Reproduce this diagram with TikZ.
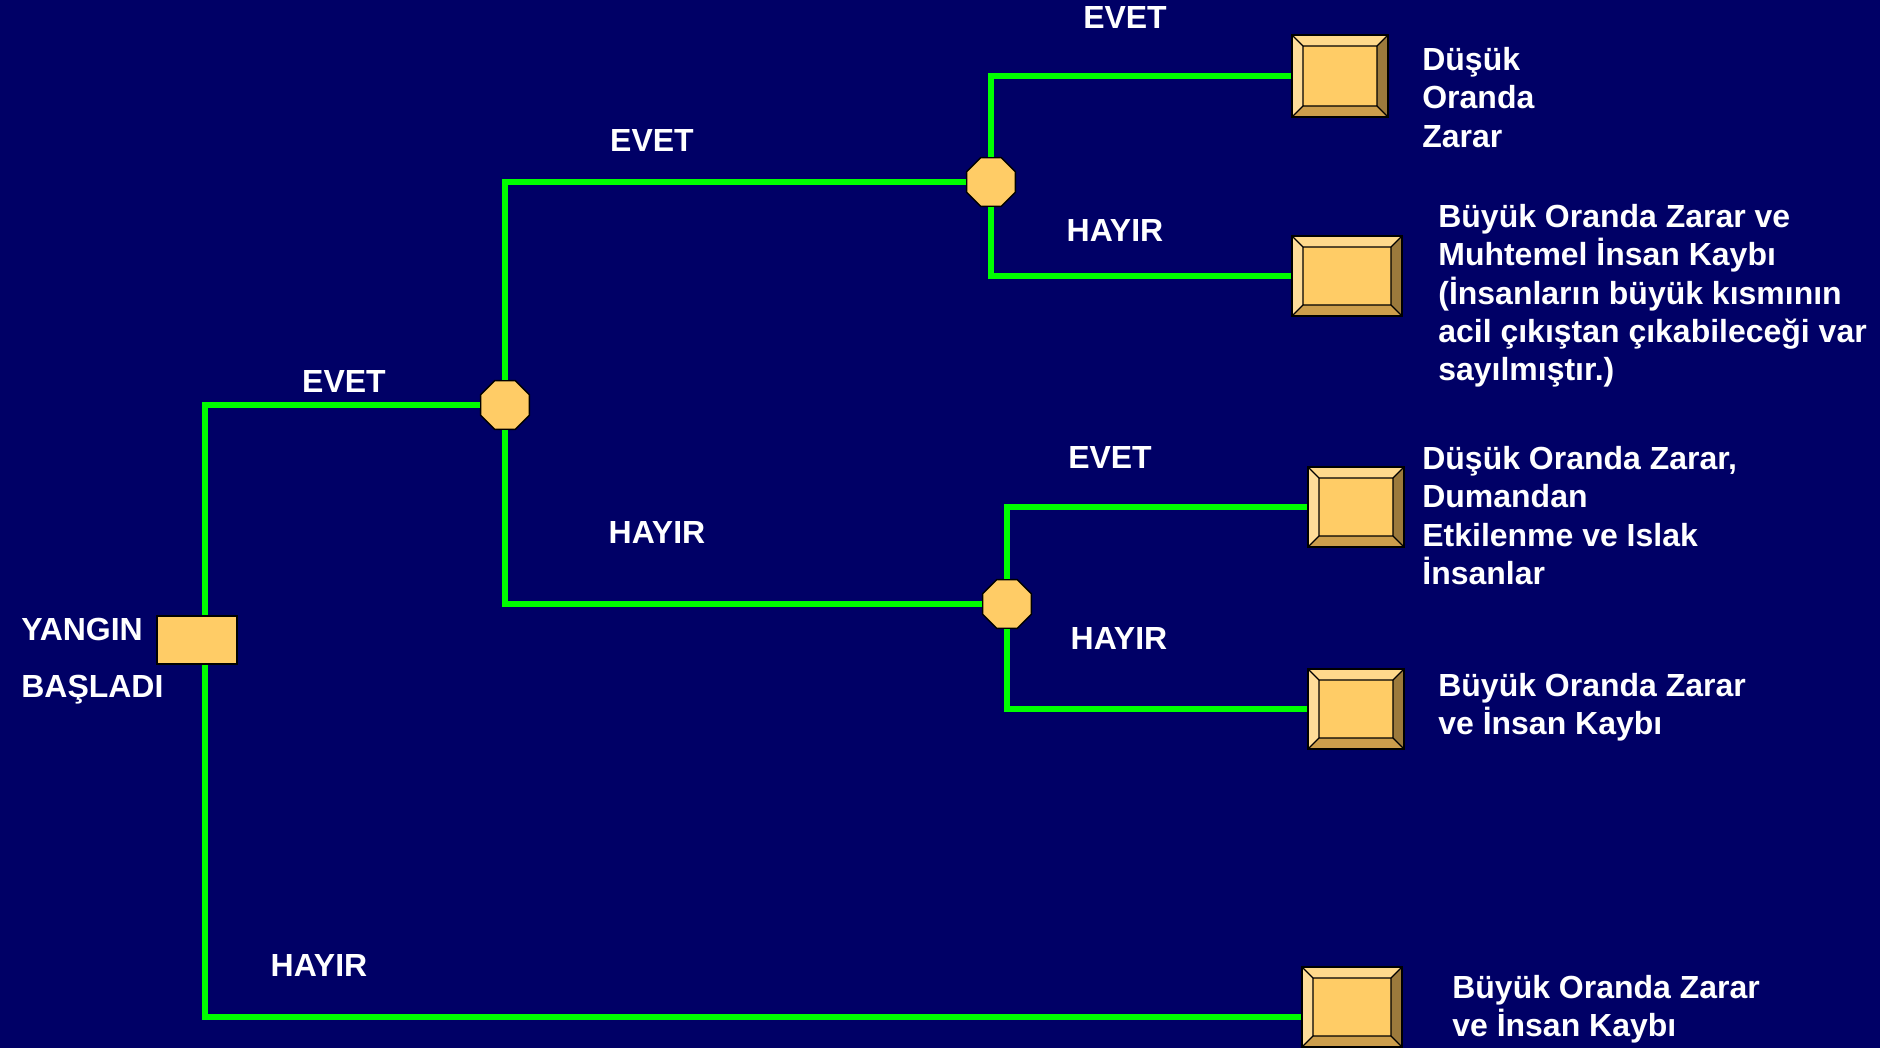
\documentclass[tikz,border=0pt]{standalone}
\usepackage{fontspec}
\setmainfont{Liberation Sans}
\usepackage{tikz}
\usepackage{xcolor}
\usetikzlibrary{calc, shapes.geometric}
\definecolor{bgblue}{HTML}{000066}
\definecolor{limbgreen}{HTML}{00FF00}
\definecolor{boxface}{HTML}{FFCC66}
\definecolor{bevtop}{HTML}{FFD98C}
\definecolor{bevleft}{HTML}{FFDD99}
\definecolor{bevright}{HTML}{9C7A3C}
\definecolor{bevbot}{HTML}{CC9E4C}

\tikzset{
  endbox/.style={draw=black, line width=0.05cm, fill=boxface, inner sep=0pt,
    path picture={
      \coordinate (pa) at (path picture bounding box.north west);
      \coordinate (pb) at (path picture bounding box.north east);
      \coordinate (pc) at (path picture bounding box.south east);
      \coordinate (pd) at (path picture bounding box.south west);
      \coordinate (qa) at ($(pa)+(0.22cm,-0.22cm)$);
      \coordinate (qb) at ($(pb)+(-0.22cm,-0.22cm)$);
      \coordinate (qc) at ($(pc)+(-0.22cm,0.22cm)$);
      \coordinate (qd) at ($(pd)+(0.22cm,0.22cm)$);
      \fill[bevtop] (pa) -- (pb) -- (qb) -- (qa) -- cycle;
      \fill[bevleft] (pa) -- (qa) -- (qd) -- (pd) -- cycle;
      \fill[bevright] (pb) -- (pc) -- (qc) -- (qb) -- cycle;
      \fill[bevbot] (pd) -- (qd) -- (qc) -- (pc) -- cycle;
      \draw[line width=0.025cm] (qa) rectangle (qc)
        (pa) -- (qa) (pb) -- (qb) (pc) -- (qc) (pd) -- (qd);
    }},
}

\begin{document}
\begin{tikzpicture}[x=0.02cm, y=-0.02cm,
  every node/.style={font=\fontsize{18.2}{21.8}\selectfont\bfseries},
  lbl/.style={text=white, inner sep=0pt},
  outtxt/.style={text=white, inner sep=0pt, align=left, anchor=north west},
  chance/.style={regular polygon, regular polygon sides=8, minimum size=1.06cm,
    inner sep=0pt, draw=black, line width=0.03cm, fill=boxface},
  startbox/.style={draw=black, line width=0.04cm, fill=boxface, inner sep=0pt,
    minimum width=1.6cm, minimum height=0.96cm},
  link/.style={draw=limbgreen, line width=0.13cm}]
  \useasboundingbox (0,0) rectangle (1880,1048);
  \fill[bgblue] (0,0) rectangle (1880,1048);

  % start and decision points
  \node[startbox] (start) at (197,640) {};
  \node[outtxt] (startlbl) at (21,618) {YANGIN\\[0.38cm]BAŞLADI};
  \node[chance] (dec1) at (505,405) {};
  \node[chance] (dec2) at (991,182) {};
  \node[chance] (dec3) at (1007,604) {};

  % outcomes
  \node[endbox, minimum width=1.92cm, minimum height=1.64cm] (out1) at (1340,76) {};
  \node[endbox, minimum width=2.2cm, minimum height=1.6cm] (out2) at (1347,276) {};
  \node[endbox, minimum width=1.92cm, minimum height=1.6cm] (out3) at (1356,507) {};
  \node[endbox, minimum width=1.92cm, minimum height=1.6cm] (out4) at (1356,709) {};
  \node[endbox, minimum width=2.0cm, minimum height=1.6cm] (out5) at (1352,1007) {};

  \node[outtxt] (txt1) at (1422,47) {Düşük\\Oranda\\Zarar};
  \node[outtxt] (txt2) at (1438,204) {Büyük Oranda Zarar ve\\Muhtemel İnsan Kaybı\\(İnsanların büyük kısmının\\acil çıkıştan çıkabileceği var\\sayılmıştır.)};
  \node[outtxt] (txt3) at (1422,446) {Düşük Oranda Zarar,\\Dumandan\\Etkilenme ve Islak\\İnsanlar};
  \node[outtxt] (txt4) at (1438,673) {Büyük Oranda Zarar\\ve İnsan Kaybı};
  \node[outtxt] (txt5) at (1452,975) {Büyük Oranda Zarar\\ve İnsan Kaybı};

  % branches
  \draw[link] ([xshift=0.16cm]start.north) |- (dec1);
  \draw[link] ([xshift=0.16cm]start.south) |- ([yshift=-0.2cm]out5.west);
  \draw[link] (dec1) |- (dec2);
  \draw[link] (dec1) |- (dec3);
  \draw[link] (dec2) |- (out1);
  \draw[link] (dec2) |- (out2);
  \draw[link] (dec3) |- (out3);
  \draw[link] (dec3) |- (out4);

  % branch labels
  \node[lbl] (yes1) at (344,381) {EVET};
  \node[lbl] (no1) at (319,965) {HAYIR};
  \node[lbl] (yes2) at (652,140) {EVET};
  \node[lbl] (no2) at (657,532) {HAYIR};
  \node[lbl] (yes3) at (1125,18) {EVET};
  \node[lbl] (no3) at (1115,230) {HAYIR};
  \node[lbl] (yes4) at (1110,457) {EVET};
  \node[lbl] (no4) at (1119,638) {HAYIR};
\end{tikzpicture}
\end{document}
